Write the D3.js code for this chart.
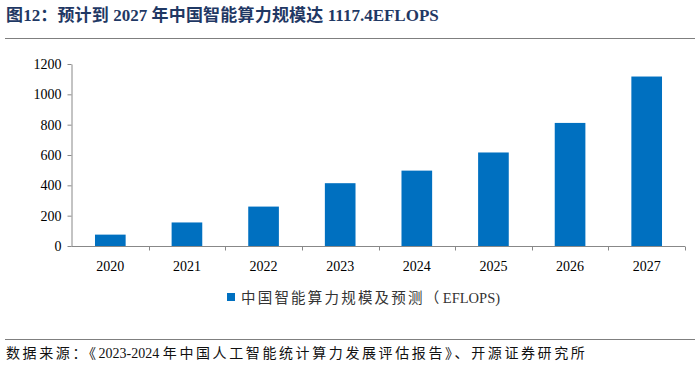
<!DOCTYPE html>
<html><head><meta charset="utf-8">
<script src="https://cdn.jsdelivr.net/npm/d3@7"></script>
<style>
html,body{margin:0;padding:0;background:#fff;}
svg{display:block;}
</style></head>
<body>
<script>
const years = ["2020","2021","2022","2023","2024","2025","2026","2027"];
const values = [75.0, 155.2, 259.9, 414.1, 497.0, 616.6, 811.5, 1117.4];
const yTicks = [0, 200, 400, 600, 800, 1000, 1200];
const titleText = "图12：预计到 2027 年中国智能算力规模达 1117.4EFLOPS";
const legendText = "中国智能算力规模及预测（ EFLOPS)";
const sourceText = "数据来源：《2023-2024 年中国人工智能统计算力发展评估报告》、开源证券研究所";

const W = 700, H = 367;
const svg = d3.select("body").append("svg").attr("width", W).attr("height", H);
const fontMix = "'Liberation Serif','Times New Roman','Noto Sans CJK SC',serif";

// text with extra spacing for CJK ideograph runs
const reCJK = /[\u3000-\u3007\u300a-\u303f\u4e00-\u9fff\uff1a]+|[^\u3000-\u3007\u300a-\u303f\u4e00-\u9fff\uff1a]+/g;
function mixedText(g, str, spacing) {
  str.match(reCJK).forEach(r => {
    const cjk = /[\u3000-\u3007\u300a-\u303f\u4e00-\u9fff\uff1a]/.test(r);
    g.append("tspan").attr("letter-spacing", cjk ? spacing : 0).text(r);
  });
}

// Title
const tt = svg.append("text").attr("x", 6).attr("y", 21)
  .attr("font-family", fontMix).attr("font-size", 17).attr("font-weight", "bold")
  .attr("fill", "#1F3864");
mixedText(tt, titleText, 0.2);
svg.append("line").attr("x1", 5).attr("x2", 695).attr("y1", 38.5).attr("y2", 38.5)
  .attr("stroke", "#7f7f7f").attr("stroke-width", 1);

const x = d3.scaleBand().domain(years).range([72, 685]).paddingInner(0.6).paddingOuter(0.3);
const y = d3.scaleLinear().domain([0, 1200]).range([246, 64]);

// Bars
svg.append("g").selectAll("rect").data(values).join("rect")
  .attr("x", (d, i) => x(years[i]))
  .attr("y", d => y(d))
  .attr("width", x.bandwidth())
  .attr("height", d => y(0) - y(d))
  .attr("fill", "#0070C0");

// Y axis
const yAxis = svg.append("g").attr("transform", "translate(71.5,0)")
  .call(d3.axisLeft(y).tickValues(yTicks).tickFormat(d3.format("d")).tickSize(4).tickSizeOuter(0).tickPadding(6));
yAxis.select(".domain").attr("stroke", "#888");
yAxis.selectAll(".tick line").attr("stroke", "#888");
yAxis.selectAll("text").attr("font-family", fontMix).attr("font-size", 14).attr("fill", "#000");

// X axis
const xb = d3.scaleLinear().domain([0, years.length]).range([72, 685]);
const xAxisG = svg.append("g").attr("transform", `translate(0,${y(0) + 0.5})`);
xAxisG.append("line").attr("x1", 71.5).attr("x2", 685).attr("stroke", "#888");
xAxisG.selectAll("line.tk").data(d3.range(1, years.length + 1)).join("line").attr("class", "tk")
  .attr("x1", d => Math.round(xb(d)) + 0.5).attr("x2", d => Math.round(xb(d)) + 0.5)
  .attr("y1", 0).attr("y2", 4).attr("stroke", "#888");
xAxisG.selectAll("text").data(years).join("text")
  .attr("x", d => x(d) + x.bandwidth() / 2).attr("y", 24)
  .attr("text-anchor", "middle").attr("font-family", fontMix).attr("font-size", 14).attr("fill", "#000")
  .text(d => d);

// Legend
svg.append("rect").attr("x", 227).attr("y", 293).attr("width", 8).attr("height", 8).attr("fill", "#0070C0");
const lt = svg.append("text").attr("x", 241).attr("y", 303)
  .attr("font-family", fontMix).attr("font-size", 14.5).attr("fill", "#333");
mixedText(lt, legendText, 2.2);

// Bottom
svg.append("line").attr("x1", 5).attr("x2", 695).attr("y1", 339.5).attr("y2", 339.5)
  .attr("stroke", "#7f7f7f").attr("stroke-width", 1);
const st = svg.append("text").attr("x", 6).attr("y", 358)
  .attr("font-family", fontMix).attr("font-size", 14).attr("fill", "#111");
mixedText(st, sourceText, 2.6);
</script>
</body></html>
